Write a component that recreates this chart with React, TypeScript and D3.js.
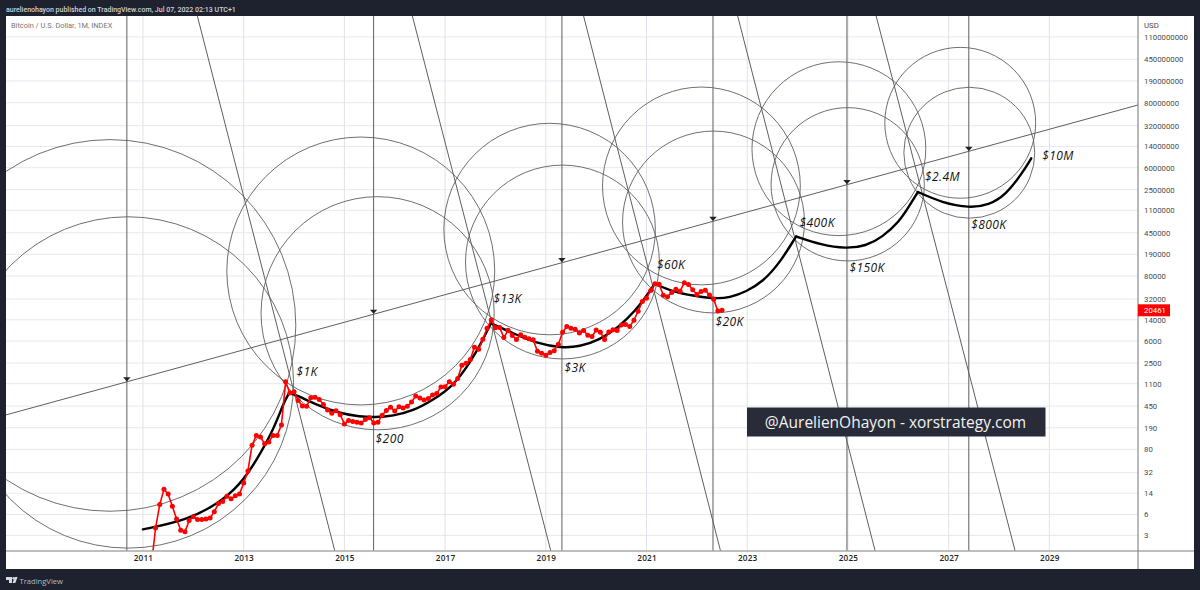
import * as d3 from 'd3';
import * as React from 'react';

const PRICE_TICKS = [1100000000, 450000000, 190000000, 80000000, 32000000, 14000000, 6000000, 2500000, 1100000, 450000, 190000, 80000, 32000, 14000, 6000, 2500, 1100, 450, 190, 80, 32, 14, 6, 2.6];
const PRICE_LABELS = ['1100000000', '450000000', '190000000', '80000000', '32000000', '14000000', '6000000', '2500000', '1100000', '450000', '190000', '80000', '32000', '14000', '6000', '2500', '1100', '450', '190', '80', '32', '14', '6', '3'];
const YEAR_TICKS = [2011, 2013, 2015, 2017, 2019, 2021, 2023, 2025, 2027, 2029];

// monthly closes, first one is March 2011
const FIRST_MONTH = 2011 + 2 / 12;
const CLOSES = [
  0.78, 3.5, 8.9, 16.4, 13.5, 8.3, 5.0, 3.2, 3.0, 4.7,
  5.5, 4.9, 4.9, 5.0, 5.2, 6.7, 9.3, 10.1, 12.4, 11.2, 12.6, 13.5,
  21, 34, 95, 139, 132, 100, 108, 140, 140, 213, 1190, 760,
  800, 560, 450, 448, 627, 640, 585, 480, 387, 338, 375, 320,
  221, 254, 244, 236, 230, 263, 284, 230, 236, 313, 378, 430,
  369, 437, 416, 448, 531, 674, 624, 575, 609, 700, 745, 963,
  970, 1190, 1080, 1350, 2300, 2480, 2870, 4700, 4340, 6450, 10000, 13880,
  10200, 10300, 6900, 9200, 7500, 6400, 7700, 7000, 6600, 6300, 4000, 3700,
  3430, 3800, 4100, 5300, 8550, 10700, 10000, 9600, 8300, 9150, 7550, 7190,
  9350, 8550, 6420, 8620, 9450, 9140, 11350, 11650, 10780, 13800, 19700, 29000,
  33100, 45200, 58800, 57700, 37300, 35000, 41500, 47100, 43800, 61300, 57000, 46300,
  38500, 43200, 45500, 37600, 31800, 19900, 20461,
];
const LAST_PRICE = '20461';

// hand drawn projection, one list per cycle
const CYCLE_YEARS = [
  [2011.0, 2011.87, 2012.46, 2012.93, 2013.26, 2013.59, 2013.79, 2013.9],
  [2013.9, 2014.02, 2014.45, 2014.91, 2015.31, 2015.6, 2015.97, 2016.36, 2016.76, 2017.16, 2017.49, 2017.75, 2017.91],
  [2017.91, 2018.35, 2018.81, 2019.31, 2019.67, 2020.07, 2020.46, 2020.79, 2020.99, 2021.16],
  [2021.16, 2021.53, 2021.92, 2022.35, 2022.65, 2022.98, 2023.31, 2023.64, 2023.97],
  [2023.97, 2024.47, 2024.96, 2025.36, 2025.68, 2026.02, 2026.21, 2026.39],
  [2026.39, 2026.87, 2027.41, 2027.8, 2028.13, 2028.46, 2028.64],
];
const CYCLE_PRICES = [
  [3.31, 4.82, 8.77, 19.5, 52.6, 174, 504, 750],
  [750, 721, 471, 338, 295, 288, 304, 371, 575, 1003, 2480, 6270, 12200],
  [12200, 8190, 5500, 4560, 4800, 6270, 10650, 20700, 35200, 58400],
  [58400, 43000, 36600, 32500, 33800, 43000, 64000, 133000, 387000],
  [387000, 276000, 238000, 265000, 375000, 698000, 1270000, 2280000],
  [2280000, 1490000, 1205000, 1360000, 2020000, 4800000, 8730000],
];

// circles: centre year, centre price, radius in years
const CIRCLE_YEARS = [2010.345, 2010.7, 2015.325, 2015.66, 2019.075, 2019.33, 2022.09, 2022.33, 2024.82, 2024.995, 2027.23, 2027.41];
const CIRCLE_PRICES = [11200, 1155, 98000, 18200, 521000, 140000, 2900000, 690000, 12800000, 3100000, 35900000, 10900000];
const CIRCLE_RADII = [3.69, 3.29, 2.66, 2.315, 2.1, 1.925, 1.964, 1.806, 1.726, 1.522, 1.498, 1.3];

const MARKER_YEARS = [2010.68, 2015.58, 2019.32, 2022.32, 2024.98, 2027.4];
const TREND_YEARS = [2008.28, 2030.76];
const TREND_PRICES = [317, 73000000];
const FAN_TOP_YEARS = [2012.08, 2016.35, 2019.75, 2022.81, 2025.56];
const FAN_BOTTOM_YEARS = [2014.81, 2019.1, 2022.47, 2025.54, 2028.32];

const NOTE_TEXTS = ['$1K', '$200', '$13K', '$3K', '$60K', '$20K', '$400K', '$150K', '$2.4M', '$800K', '$10M'];
const NOTE_YEARS = [2014.05, 2015.62, 2017.96, 2019.37, 2021.21, 2022.37, 2024.04, 2025.03, 2026.53, 2027.45, 2028.86];
const NOTE_PRICES = [1510, 105, 27100, 1730, 106000, 10950, 559000, 94200, 3530000, 516000, 8150000];

const FONT = '"Open Sans", sans-serif';
const SMALL_FONT = 'Roboto, sans-serif';
const DARK = '#1d222e';

const App = () => {
  const ref = React.useRef<SVGSVGElement | null>(null);

  React.useEffect(() => {
    const svg = d3.select(ref.current);
    svg.selectAll('*').remove();

    const left = 6;
    const right = 1138;
    const top = 16;
    const bottom = 551;

    const x = d3.scaleLinear().domain([2008.28, 2030.76]).range([left, right]);
    const y = d3.scaleLog().domain([1.4, 2530000000]).range([bottom, top]);
    const [priceLow, priceHigh] = y.domain();

    svg.append('rect').attr('width', 1200).attr('height', 590).attr('fill', DARK);
    svg.append('rect').attr('x', left).attr('y', top).attr('width', 1194 - left).attr('height', 569 - top).attr('fill', '#ffffff');

    svg.append('defs').append('clipPath').attr('id', 'plot').append('rect').attr('x', left).attr('y', top).attr('width', right - left).attr('height', bottom - top);

    // grid
    const grid = svg.append('g');
    grid.selectAll('.h').data(PRICE_TICKS).enter().append('line')
      .attr('x1', left).attr('x2', right).attr('y1', (d) => y(d)).attr('y2', (d) => y(d))
      .attr('stroke', '#e6e8ef').attr('stroke-width', 1);
    grid.selectAll('.v').data(YEAR_TICKS).enter().append('line')
      .attr('x1', (d) => x(d)).attr('x2', (d) => x(d)).attr('y1', top).attr('y2', bottom)
      .attr('stroke', '#dfe2ea').attr('stroke-width', 1);

    const plot = svg.append('g').attr('clip-path', 'url(#plot)');
    const thin = '#5f5f5f';

    // trend line
    const trendY = d3.scaleLinear().domain(TREND_YEARS).range(TREND_PRICES.map((d) => y(d)));
    plot.append('line')
      .attr('x1', x(TREND_YEARS[0])).attr('y1', trendY(TREND_YEARS[0]))
      .attr('x2', x(TREND_YEARS[1])).attr('y2', trendY(TREND_YEARS[1]))
      .attr('stroke', thin).attr('stroke-width', 1);

    // cycle lows
    plot.selectAll('.marker').data(MARKER_YEARS).enter().append('line')
      .attr('x1', (d) => x(d)).attr('x2', (d) => x(d)).attr('y1', top).attr('y2', bottom)
      .attr('stroke', thin).attr('stroke-width', 1);
    plot.selectAll('.arrow').data(MARKER_YEARS).enter().append('path')
      .attr('d', 'M-3.7,-4.6L3.7,-4.6L0,-0.4Z')
      .attr('transform', (d) => `translate(${x(d)},${trendY(d)})`)
      .attr('fill', '#222222');

    // falling lines
    plot.selectAll('.fan').data(FAN_TOP_YEARS).enter().append('line')
      .attr('x1', (d) => x(d)).attr('y1', y(priceHigh))
      .attr('x2', (d, i) => x(FAN_BOTTOM_YEARS[i])).attr('y2', y(priceLow))
      .attr('stroke', thin).attr('stroke-width', 1);

    // circles
    plot.selectAll('.circle').data(CIRCLE_YEARS).enter().append('circle')
      .attr('cx', (d) => x(d))
      .attr('cy', (d, i) => y(CIRCLE_PRICES[i]))
      .attr('r', (d, i) => x(d + CIRCLE_RADII[i]) - x(d))
      .attr('fill', 'none').attr('stroke', thin).attr('stroke-width', 0.9);

    // projection
    const curve = d3.line<number>()
      .x((d) => x(d))
      .y((d, i, all) => y(CYCLE_PRICES[CYCLE_YEARS.indexOf(all as number[])][i]))
      .curve(d3.curveBasis);
    plot.selectAll('.cycle').data(CYCLE_YEARS).enter().append('path')
      .attr('d', (d) => curve(d))
      .attr('fill', 'none').attr('stroke', '#000000').attr('stroke-width', 2.4).attr('stroke-linecap', 'round');

    // price
    const monthX = (i: number) => x(FIRST_MONTH + i / 12);
    const priceLine = d3.line<number>().x((d, i) => monthX(i)).y((d) => y(d));
    plot.append('path').attr('d', priceLine(CLOSES)).attr('fill', 'none').attr('stroke', '#ff0000').attr('stroke-width', 1.6);
    plot.selectAll('.close').data(CLOSES).enter().append('circle')
      .attr('cx', (d, i) => monthX(i)).attr('cy', (d) => y(d)).attr('r', 2.5).attr('fill', '#ff0000');

    // notes
    svg.selectAll('.note').data(NOTE_TEXTS).enter().append('text')
      .attr('x', (d, i) => x(NOTE_YEARS[i])).attr('y', (d, i) => y(NOTE_PRICES[i]))
      .attr('font-family', FONT).attr('font-style', 'italic').attr('font-size', 12).attr('letter-spacing', 0.4)
      .attr('fill', '#111111').text((d) => d);

    // axes
    const yAxis = svg.append('g').attr('transform', `translate(${right},0)`)
      .call(d3.axisRight(y).tickValues(PRICE_TICKS).tickSize(0).tickPadding(6).tickFormat((d, i) => PRICE_LABELS[i]));
    const xAxis = svg.append('g').attr('transform', `translate(0,${bottom})`)
      .call(d3.axisBottom(x).tickValues(YEAR_TICKS).tickSize(0).tickPadding(4).tickFormat((d) => String(d)));
    yAxis.select('.domain').remove();
    xAxis.select('.domain').remove();
    yAxis.selectAll('text').style('fill', '#4a4a4a').style('font-family', SMALL_FONT).style('font-size', '7.8px');
    xAxis.selectAll('text').style('fill', '#222222').style('font-family', FONT).style('font-size', '8.2px').style('font-weight', 600).style('letter-spacing', '0.2px');

    svg.append('line').attr('x1', left).attr('x2', 1194).attr('y1', bottom).attr('y2', bottom).attr('stroke', '#a8a8a8').attr('stroke-width', 1.6);
    svg.append('line').attr('x1', right).attr('x2', right).attr('y1', top).attr('y2', 569).attr('stroke', '#8a8a8a').attr('stroke-width', 1.2);

    svg.append('text').attr('x', 1144).attr('y', 27.5).attr('font-family', SMALL_FONT).attr('font-size', 7.8).attr('fill', '#4a4a4a').text('USD');

    // last price tag
    svg.append('rect').attr('x', right).attr('y', y(+LAST_PRICE) - 6).attr('width', 32).attr('height', 12).attr('fill', '#ff0000');
    svg.append('text').attr('x', 1144).attr('y', y(+LAST_PRICE) + 3).attr('font-family', SMALL_FONT).attr('font-size', 7.8).attr('fill', '#ffffff').text(LAST_PRICE);

    // header and footer
    svg.append('text').attr('x', 6).attr('y', 11.5).attr('font-family', SMALL_FONT).attr('font-size', 7).attr('font-weight', 500).attr('fill', '#cfd2da')
      .text('aurelienohayon published on TradingView.com, Jul 07, 2022 02:13 UTC+1');
    svg.append('text').attr('x', 11).attr('y', 27.5).attr('font-family', SMALL_FONT).attr('font-size', 7.4).attr('fill', '#777777')
      .text('Bitcoin / U.S. Dollar, 1M, INDEX');

    svg.append('path').attr('d', 'M6,577H12V583H9V580H6ZM12.5,583L14.8,577H17.6L15.3,583Z').attr('fill', '#d8dbe2');
    svg.append('circle').attr('cx', 13.6).attr('cy', 578.2).attr('r', 1.2).attr('fill', '#d8dbe2');
    svg.append('text').attr('x', 19.5).attr('y', 583.5).attr('font-family', FONT).attr('font-size', 7.6).attr('fill', '#b9bcc4').text('TradingView');

    // watermark
    svg.append('rect').attr('x', 747).attr('y', 407.5).attr('width', 298.5).attr('height', 29).attr('fill', '#282c38');
    svg.append('text').attr('x', 895.5).attr('y', 427.5).attr('text-anchor', 'middle').attr('font-family', FONT).attr('font-size', 15.5).attr('fill', '#f2f2f2')
      .text('@AurelienOhayon - xorstrategy.com');
  }, []);

  return <svg ref={ref} width={1200} height={590} style={{ position: 'absolute', left: 0, top: 0, display: 'block' }} />;
};

export default App;
